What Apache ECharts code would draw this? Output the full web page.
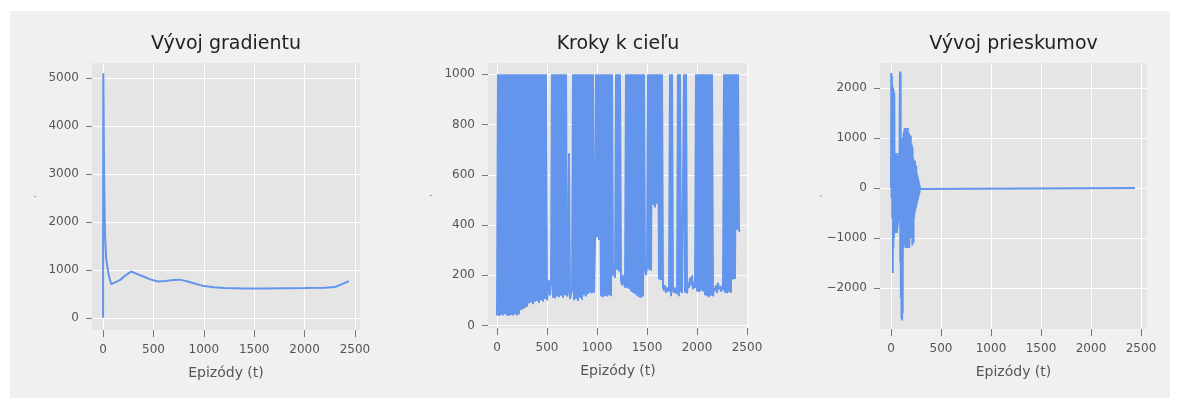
<!DOCTYPE html>
<html>
<head>
<meta charset="utf-8">
<script src="https://cdn.jsdelivr.net/npm/echarts@6/dist/echarts.min.js"></script>
<style>
html,body{margin:0;padding:0;background:#ffffff;}
#wrap{position:relative;width:1180px;height:401px;}
#bg{position:absolute;left:10px;top:11px;width:1160px;height:387px;background:#f0f0f0;}
#chart{position:absolute;left:0;top:0;width:1180px;height:401px;}
</style>
</head>
<body>
<div id="wrap"><div id="bg"></div><div id="chart"></div></div>
<script>
// ---- data ----
const titles = ['Vývoj gradientu', 'Kroky k cieľu', 'Vývoj prieskumov'];
const xName = 'Epizódy (t)';
const xTicks = [0, 500, 1000, 1500, 2000, 2500];
const gradTicks = [0, 1000, 2000, 3000, 4000, 5000];
const stepTicks = [0, 200, 400, 600, 800, 1000];
const explTicks = [-2000, -1000, 0, 1000, 2000];

// gradient evolution: [episode, value]
const gradient = [
  [0,0],[2,5100],[5,4500],[10,3000],[18,1800],[30,1250],[50,950],[80,700],[120,740],
  [170,790],[220,880],[280,965],[340,910],[400,860],[470,800],[540,757],[620,765],
  [700,790],[760,795],[830,760],[900,720],[1000,660],[1100,635],[1200,620],[1400,610],
  [1600,612],[1800,618],[2000,622],[2200,628],[2300,640],[2360,690],[2440,765]
];

// steps to goal, one value every 10 episodes (episode = index * 10)
const stepEvery = 10;
const steps = [
  40,1000,38,1000,42,1000,40,1000,45,1000,
  40,1000,38,1000,42,1000,40,1000,44,1000,
  40,1000,45,1000,62,1000,65,1000,70,1000,
  75,1000,88,1000,92,1000,85,1000,95,1000,
  98,1000,90,1000,100,1000,95,1000,105,1000,
  100,150,180,120,170,1000,110,1000,108,1000,
  115,1000,112,1000,118,1000,110,1000,120,1000,
  115,130,686,105,125,140,1000,100,1000,105,
  1000,98,1000,110,1000,102,1000,120,1000,115,
  1000,125,1000,130,1000,128,1000,130,340,1000,
  350,1000,340,1000,116,1000,112,1000,118,1000,
  115,1000,120,1000,116,1000,200,220,190,1000,
  222,1000,215,1000,180,160,200,170,150,1000,
  150,1000,145,1000,135,1000,130,1000,125,1000,
  118,1000,112,1000,110,1000,115,1000,220,200,
  230,1000,222,1000,218,1000,480,1000,470,1000,
  485,1000,183,1000,180,1000,150,140,160,130,
  150,145,135,1000,116,1000,140,130,150,135,
  125,1000,116,1000,140,130,125,1000,130,1000,
  128,170,150,190,160,200,145,175,150,1000,
  135,1000,132,1000,138,1000,135,1000,120,1000,
  116,1000,112,1000,118,1000,116,150,140,160,
  130,170,145,155,135,160,140,1000,130,1000,
  128,1000,132,1000,130,1000,183,1000,185,1000,
  381,1000,375,380
];

// exploration evolution: [episode, value]
const exploration = [
  [0,0],[3,2300],[6,-200],[9,2250],[12,-600],[15,2050],[18,-1700],[21,2000],[24,-1200],
  [27,1950],[30,-1000],[33,1900],[36,-800],[39,600],[42,-900],[45,700],[48,-700],
  [51,500],[54,-850],[57,700],[60,-900],[63,600],[66,-800],[69,650],[72,-700],
  [75,500],[78,-600],[81,700],[84,-500],[87,1500],[90,2330],[93,-1500],[96,2300],
  [99,-2200],[102,1000],[105,-2600],[108,800],[111,-2650],[114,900],[117,-2500],
  [120,1000],[123,-1200],[126,1100],[129,-1000],[132,1150],[135,-1100],[138,1200],
  [141,-1150],[144,1100],[147,-1200],[150,1200],[153,-1100],[156,1150],[159,-1000],
  [162,1100],[165,-1200],[168,1200],[171,-1100],[174,1000],[177,-900],[180,1100],
  [183,-1200],[186,1000],[189,-800],[192,950],[195,-1000],[198,1050],[201,-700],
  [204,900],[207,-600],[210,850],[213,-1150],[216,800],[219,-600],[222,600],
  [225,-1100],[228,550],[231,-600],[234,500],[237,-500],[240,550],[243,-450],
  [246,400],[249,-400],[252,450],[255,-350],[258,300],[261,-300],[264,250],
  [267,-250],[270,200],[273,-200],[276,150],[279,-150],[282,100],[285,-100],
  [288,50],[291,-20],[295,0],[2440,0]
];

// ---- chart ----
const blue = '#6495ED';
const stepsData = steps.map((v, i) => [i * stepEvery, v]);

const grids = [
  {left: 92, top: 63, width: 268, height: 267},
  {left: 488, top: 63, width: 260, height: 265},
  {left: 880, top: 63, width: 267, height: 266}
];
const xRanges = [[-110, 2550], [-90, 2510], [-110, 2560]];
const yRanges = [[-255, 5312], [-10, 1045], [-2820, 2500]];
const yTickSets = [gradTicks, stepTicks, explTicks];
const fmt = v => (v < 0 ? '\u2212' + Math.abs(v) : String(v));

function xAxisFor(i) {
  return {
    type: 'value', gridIndex: i, min: xRanges[i][0], max: xRanges[i][1],
    name: xName, nameLocation: 'middle', nameGap: 36,
    nameTextStyle: {color: '#555', fontSize: 14, fontFamily: 'DejaVu Sans'},
    axisLine: {show: false, onZero: false},
    axisTick: {show: true, length: 7, lineStyle: {color: '#777', width: 1}, customValues: xTicks},
    axisLabel: {color: '#555', fontSize: 12, fontFamily: 'DejaVu Sans', margin: 14, customValues: xTicks, formatter: fmt},
    splitLine: {show: true, lineStyle: {color: '#ffffff', width: 1}}
  };
}
function yAxisFor(i) {
  return {
    type: 'value', gridIndex: i, min: yRanges[i][0], max: yRanges[i][1],
    name: ',', nameLocation: 'middle', nameGap: 55, nameRotate: 90,
    nameTextStyle: {color: '#555', fontSize: 8},
    axisLine: {show: false, onZero: false},
    axisTick: {show: true, length: 6, lineStyle: {color: '#777', width: 1}, customValues: yTickSets[i]},
    axisLabel: {color: '#555', fontSize: 12, fontFamily: 'DejaVu Sans', margin: 13, customValues: yTickSets[i], formatter: fmt},
    splitLine: {show: true, lineStyle: {color: '#ffffff', width: 1}}
  };
}

const chart = echarts.init(document.getElementById('chart'), null, {renderer: 'canvas'});
chart.setOption({
  animation: false,
  backgroundColor: 'transparent',
  title: titles.map((t, i) => ({
    text: t, left: grids[i].left + grids[i].width / 2, top: 35, textAlign: 'center', padding: 0,
    textStyle: {color: '#222', fontSize: 19, fontWeight: 'normal', fontFamily: 'DejaVu Sans'}
  })),
  grid: grids.map(g => Object.assign({show: true, backgroundColor: '#e5e5e5', borderWidth: 0}, g)),
  xAxis: [0, 1, 2].map(xAxisFor),
  yAxis: [0, 1, 2].map(yAxisFor),
  series: [
    {type: 'line', xAxisIndex: 0, yAxisIndex: 0, data: gradient, showSymbol: false,
     lineStyle: {color: blue, width: 2}, itemStyle: {color: blue}},
    {type: 'line', xAxisIndex: 1, yAxisIndex: 1, data: stepsData, showSymbol: false,
     lineStyle: {color: blue, width: 2}, itemStyle: {color: blue}},
    {type: 'line', xAxisIndex: 2, yAxisIndex: 2, data: exploration, showSymbol: false,
     lineStyle: {color: blue, width: 2}, itemStyle: {color: blue}}
  ]
});
</script>
</body>
</html>
